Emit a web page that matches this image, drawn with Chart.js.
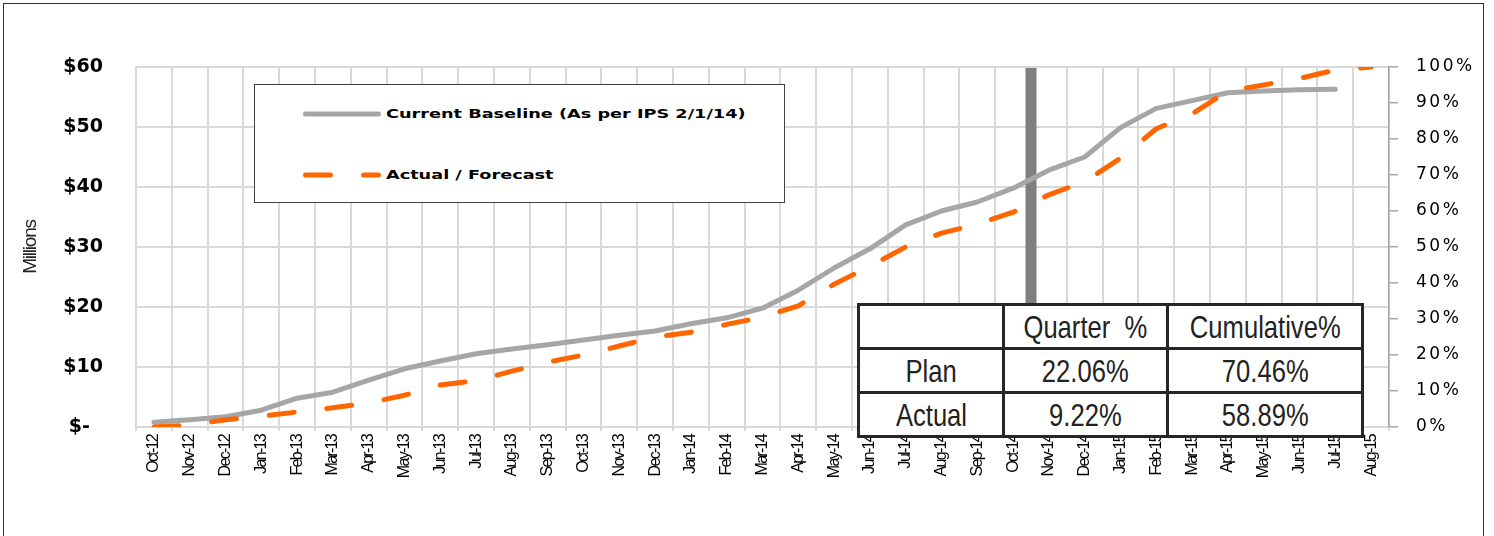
<!DOCTYPE html>
<html>
<head>
<meta charset="utf-8">
<script src="https://cdn.jsdelivr.net/npm/chart.js@4.4.1/dist/chart.umd.min.js"></script>
<style>
  html, body { margin: 0; padding: 0; background: #fff; }
  #wrap { position: relative; width: 1494px; height: 536px; overflow: hidden; }
  #chart { position: absolute; left: 0; top: 0; }
  #frame { position: absolute; left: 3px; top: 3px; width: 1481px; height: 600px; border: 1.5px solid #333; box-sizing: border-box; pointer-events: none; }
  #legend { position: absolute; left: 254px; top: 84px; width: 531px; height: 119px; border: 1.5px solid #404040; box-sizing: border-box; background: #fff; }
  .legend-row { position: absolute; left: 0; height: 0; }
  .legend-row svg { position: absolute; left: 46px; top: -5px; }
  .legend-text { position: absolute; left: 131px; top: -9px; white-space: nowrap; font: bold 13px "DejaVu Sans", sans-serif; color: #000; transform: scaleX(1.36); transform-origin: left center; line-height: 18px; }
  #summary { position: absolute; left: 857px; top: 303px; border-collapse: collapse; background: #fff; font-family: "Liberation Sans", Arial, sans-serif; font-size: 32px; color: #222; }
  #summary td { border: 3px solid #262626; text-align: center; vertical-align: middle; padding: 0; height: 41px; line-height: 1; white-space: pre; }
  #summary td span { display: inline-block; transform: scaleX(0.8); }
</style>
</head>
<body>
<div id="wrap">
  <canvas id="chart" width="1494" height="536"></canvas>
  <div id="legend"></div>
  <table id="summary"></table>
  <div id="frame"></div>
</div>
<script>
const months = ['Oct-12', 'Nov-12', 'Dec-12', 'Jan-13', 'Feb-13', 'Mar-13', 'Apr-13', 'May-13', 'Jun-13', 'Jul-13', 'Aug-13', 'Sep-13',
  'Oct-13', 'Nov-13', 'Dec-13', 'Jan-14', 'Feb-14', 'Mar-14', 'Apr-14', 'May-14', 'Jun-14', 'Jul-14', 'Aug-14', 'Sep-14',
  'Oct-14', 'Nov-14', 'Dec-14', 'Jan-15', 'Feb-15', 'Mar-15', 'Apr-15', 'May-15', 'Jun-15', 'Jul-15', 'Aug-15'];

// $ millions
const baseline = [0.8, 1.2, 1.7, 2.8, 4.8, 5.8, 7.8, 9.7, 11.0, 12.2, 13.0, 13.7,
  14.5, 15.3, 16.0, 17.2, 18.2, 19.8, 22.8, 26.5, 29.7, 33.7, 36.0, 37.5,
  39.8, 42.8, 45.0, 49.9, 53.1, 54.4, 55.7, 56.0, 56.2, 56.3, null];
const actualForecast = [0.0, 0.3, 1.2, 1.8, 2.5, 3.2, 4.0, 5.3, 7.0, 7.7, 9.3, 10.8,
  12.0, 13.5, 15.0, 15.8, 17.1, 18.3, 20.2, 23.8, 26.8, 30.0, 32.3, 33.8,
  35.8, 38.7, 40.9, 44.8, 49.7, 52.2, 56.0, 57.0, 58.1, 59.5, 60.0];

const reportMonth = 'Oct-14';

const tableHeader = ['', 'Quarter  %', 'Cumulative%'];
const planRow = ['Plan', '22.06%', '70.46%'];
const actualRow = ['Actual', '9.22%', '58.89%'];
const colWidths = [145, 164, 195];

const gridColor = '#D9D9D9';
const sans = '"Liberation Sans", Arial, sans-serif';
const wide = '"DejaVu Sans", Verdana, sans-serif';

// thick marker between the report month and the next one
const markerLine = {
  id: 'markerLine',
  beforeDatasetsDraw(chart) {
    const { ctx, chartArea, scales: { x } } = chart;
    const i = months.indexOf(reportMonth);
    const px = (x.getPixelForValue(i) + x.getPixelForValue(i + 1)) / 2;
    ctx.save();
    ctx.strokeStyle = '#7F7F7F';
    ctx.lineWidth = 11;
    ctx.beginPath();
    ctx.moveTo(px, chartArea.top + 1);
    ctx.lineTo(px, chartArea.bottom);
    ctx.stroke();
    ctx.restore();
  }
};

// letter spacing for tick labels / titles, per scale
const spacedText = {
  id: 'spacedText',
  beforeDraw(chart, args, opts) {
    Object.keys(opts).forEach(id => {
      const scale = chart.scales[id];
      if (!scale || scale._spaced) return;
      ['labels', 'title'].forEach(part => {
        if (opts[id][part] === undefined) return;
        const fn = part === 'labels' ? 'drawLabels' : 'drawTitle';
        const orig = scale[fn];
        scale[fn] = function (area) {
          chart.ctx.save();
          chart.ctx.letterSpacing = opts[id][part] + 'px';
          orig.call(this, area);
          chart.ctx.restore();
        };
      });
      scale._spaced = true;
    });
  }
};

const datasets = [
  {
    label: 'Current Baseline (As per IPS 2/1/14)',
    data: baseline,
    borderColor: '#A6A6A6',
    borderWidth: 5,
    borderCapStyle: 'round',
    borderJoinStyle: 'round',
    pointRadius: 0,
    tension: 0,
    order: 1
  },
  {
    label: 'Actual / Forecast',
    data: actualForecast,
    borderColor: '#FF6600',
    borderWidth: 5,
    borderDash: [25, 33],
    borderCapStyle: 'round',
    borderJoinStyle: 'round',
    pointRadius: 0,
    tension: 0,
    order: 0
  }
];

new Chart(document.getElementById('chart'), {
  type: 'line',
  data: { labels: months, datasets },
  plugins: [markerLine, spacedText],
  options: {
    responsive: false,
    animation: false,
    devicePixelRatio: 1,
    layout: { padding: { top: 67, left: 0, right: 0, bottom: 0 } },
    scales: {
      x: {
        offset: true,
        grid: { offset: true, color: gridColor, lineWidth: 2, drawTicks: true, tickLength: 4 },
        border: { display: true, color: gridColor, width: 2 },
        ticks: { autoSkip: false, minRotation: 90, maxRotation: 90, padding: 4, color: '#000', font: { family: sans, size: 16 } },
        afterFit: s => { s.height = 109; }
      },
      y: {
        position: 'left',
        min: 0, max: 60,
        grid: { color: gridColor, lineWidth: 2, drawTicks: false },
        border: { display: true, color: gridColor, width: 2 },
        ticks: {
          stepSize: 10, padding: 33, color: '#000',
          font: { family: wide, size: 19, weight: 'bold' },
          callback: v => v === 0 ? '$-  ' : '$' + v
        },
        title: { display: true, text: 'Millions', color: '#222', padding: { top: 19, bottom: 0 }, font: { family: sans, size: 19 } },
        afterFit: s => { s.width = 136; }
      },
      y1: {
        position: 'right',
        min: 0, max: 100,
        grid: { drawOnChartArea: false, drawTicks: true, tickLength: 9, color: '#A6A6A6', lineWidth: 1.5 },
        border: { display: true, color: '#A6A6A6', width: 1.5 },
        ticks: {
          stepSize: 10, padding: 18, color: '#000',
          font: { family: wide, size: 17 },
          callback: v => v + '%'
        },
        afterFit: s => { s.width = 105; }
      }
    },
    plugins: {
      legend: { display: false },
      tooltip: { enabled: false },
      spacedText: { x: { labels: -1.7 }, y: { title: -1.2 }, y1: { labels: 2.5 } }
    }
  }
});

// legend box built from the dataset styles
const legendEl = document.getElementById('legend');
legendEl.innerHTML = datasets.map((ds, i) => `
  <div class="legend-row" style="top:${29 + i * 61}px">
    <svg width="82" height="10">
      <line x1="4.5" y1="5" x2="77.5" y2="5" stroke="${ds.borderColor}" stroke-width="${ds.borderWidth}"
        stroke-linecap="round" ${ds.borderDash ? `stroke-dasharray="${ds.borderDash.join(' ')}"` : ''}></line>
    </svg>
    <span class="legend-text">${ds.label}</span>
  </div>`).join('');

// summary table
const tableEl = document.getElementById('summary');
tableEl.innerHTML = `
  <colgroup>${colWidths.map(w => `<col style="width:${w}px">`).join('')}</colgroup>
  ${[tableHeader, planRow, actualRow].map(row => `<tr>${row.map(c => `<td><span>${c}</span></td>`).join('')}</tr>`).join('')}
`;
</script>
</body>
</html>
